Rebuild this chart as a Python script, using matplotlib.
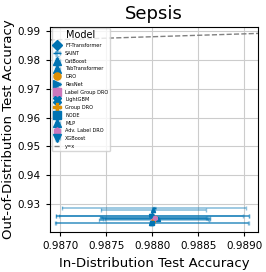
import matplotlib
matplotlib.use("Agg")
import matplotlib.pyplot as plt

# values
models = ["FT-Transformer", "SAINT", "CatBoost", "TabTransformer", "DRO", "ResNet",
          "Label Group DRO", "LightGBM", "Group DRO", "NODE", "MLP", "Adv. Label DRO", "XGBoost"]
markers = ["D", "_", "^", "^", "o", ">", "s", "X", "P", "s", "^", "h", "v"]
colors = ["#0173b2", "#0173b2", "#0173b2", "#0173b2", "#de8f05", "#0173b2", "#cc78bc",
          "#0173b2", "#de8f05", "#0173b2", "#0173b2", "#cc78bc", "#0173b2"]
id_acc = [0.98800, 0.98802, 0.98801, 0.98799, 0.98803, 0.98800, 0.98801,
          0.98804, 0.98802, 0.98800, 0.98806, 0.98803, 0.98799]
ood_acc = [0.9259, 0.9287, 0.9278, 0.9233, 0.9250, 0.9259, 0.9252,
           0.9248, 0.9246, 0.9233, 0.9247, 0.9251, 0.9259]
id_err = [0.00105, 0.00100, 0.00057, 0.00105, 0.00060, 0.00105, 0.00057,
          0.00057, 0.00060, 0.00105, 0.00057, 0.00057, 0.00100]
ood_err = [0.0002, 0.0003, 0.0003, 0.0002, 0.0002, 0.0002, 0.0003,
           0.0002, 0.0002, 0.0002, 0.0002, 0.0003, 0.0002]

fig = plt.figure(figsize=(2.66, 2.72), dpi=100)
ax = fig.add_axes([0.188, 0.147, 0.782, 0.754])

for i in range(len(models)):
    line, caps, bars = ax.errorbar(id_acc[i], ood_acc[i], xerr=id_err[i], yerr=ood_err[i],
                                   fmt=markers[i], color=colors[i], ecolor="#0173b2",
                                   elinewidth=1.2, capsize=1.5, markersize=3,
                                   label=models[i])
    for c in caps:
        c.set_alpha(0.45)
    for b in bars:
        b.set_alpha(0.45)

lims = [0.98689, 0.98915]
ax.plot(lims, lims, "--", color="gray", linewidth=1, label="y=x")

ax.set_xlim(lims)
ax.set_ylim(0.9203, 0.9914)
ax.set_xticks([0.987, 0.9875, 0.988, 0.9885, 0.989])
ax.set_xticklabels(["0.9870", "0.9875", "0.9880", "0.9885", "0.9890"])
ax.set_yticks([0.93, 0.94, 0.95, 0.96, 0.97, 0.98, 0.99])
ax.tick_params(labelsize=7.5, length=3)
ax.grid(True, color="#cccccc")
ax.set_axisbelow(True)

ax.set_title("Sepsis", fontsize=13)
ax.set_xlabel("In-Distribution Test Accuracy", fontsize=9.5)
ax.set_ylabel("Out-of-Distribution Test Accuracy", fontsize=9.5, labelpad=2)

handles, labels = ax.get_legend_handles_labels()
# put y=x at the end like the original
order = [labels.index(m) for m in models] + [labels.index("y=x")]
ax.legend([handles[k] for k in order], [labels[k] for k in order],
          title="Model", loc="upper left", fontsize=3.6, title_fontsize=7,
          markerscale=1.7, handlelength=1.5, borderaxespad=0.3, labelspacing=0.55)

fig.savefig("out.png", dpi=100)
